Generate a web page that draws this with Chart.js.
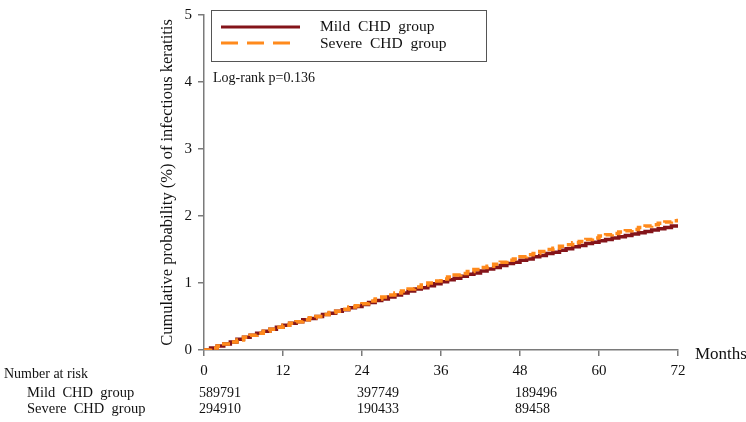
<!DOCTYPE html>
<html>
<head>
<meta charset="utf-8">
<script src="https://cdn.jsdelivr.net/npm/chart.js@4"></script>
<style>
  html, body { margin: 0; padding: 0; background: #fff; }
  #wrap { width: 746px; height: 422px; position: relative; }
</style>
</head>
<body>
<div id="wrap"><canvas id="km"></canvas></div>
<script>
// Follow-up month for each step
const months = [0, 1, 2, 3, 4, 5, 6, 7, 8, 9, 10, 11, 12, 13, 14, 15, 16, 17, 18, 19, 20, 21, 22, 23, 24,
  25, 26, 27, 28, 29, 30, 31, 32, 33, 34, 35, 36, 37, 38, 39, 40, 41, 42, 43, 44, 45, 46, 47, 48,
  49, 50, 51, 52, 53, 54, 55, 56, 57, 58, 59, 60, 61, 62, 63, 64, 65, 66, 67, 68, 69, 70, 71, 72];

// Cumulative probability (%)
const mildCHD = [0.00, 0.03, 0.06, 0.09, 0.12, 0.16, 0.19, 0.22, 0.25, 0.28, 0.31, 0.34, 0.37,
  0.40, 0.42, 0.45, 0.47, 0.50, 0.53, 0.55, 0.58, 0.60, 0.63, 0.65, 0.68,
  0.71, 0.74, 0.76, 0.79, 0.82, 0.85, 0.88, 0.91, 0.93, 0.96, 0.99, 1.02,
  1.05, 1.07, 1.10, 1.13, 1.15, 1.18, 1.21, 1.23, 1.26, 1.29, 1.31, 1.34,
  1.36, 1.39, 1.41, 1.44, 1.46, 1.49, 1.51, 1.54, 1.56, 1.59, 1.61, 1.63,
  1.65, 1.67, 1.69, 1.71, 1.73, 1.75, 1.77, 1.79, 1.81, 1.83, 1.85, 1.87];
const severeCHD = [0.00, 0.03, 0.06, 0.09, 0.12, 0.15, 0.19, 0.22, 0.25, 0.28, 0.31, 0.34, 0.37,
  0.40, 0.42, 0.45, 0.48, 0.50, 0.53, 0.56, 0.58, 0.61, 0.64, 0.66, 0.69,
  0.73, 0.76, 0.79, 0.82, 0.85, 0.88, 0.91, 0.94, 0.97, 1.00, 1.03, 1.06,
  1.09, 1.12, 1.14, 1.17, 1.20, 1.23, 1.25, 1.28, 1.31, 1.34, 1.36, 1.39,
  1.42, 1.44, 1.47, 1.50, 1.52, 1.55, 1.57, 1.60, 1.62, 1.65, 1.67, 1.70,
  1.72, 1.74, 1.76, 1.78, 1.80, 1.83, 1.85, 1.87, 1.89, 1.91, 1.93, 1.96];

// Number at risk table
const riskMonths = [0, 24, 48];
const riskMild = ['589791', '397749', '189496'];
const riskSevere = ['294910', '190433', '89458'];

const seriesNames = ['Mild  CHD  group', 'Severe  CHD  group'];
const xTicks = [0, 12, 24, 36, 48, 60, 72];
const yTicks = [0, 1, 2, 3, 4, 5];

const SERIF = "'Liberation Serif', 'Times New Roman', serif";
const MAROON = '#84141a';
const ORANGE = '#ff8a1c';
const AXIS = '#7a7a7a';

function toPoints(vals) {
  return months.map((m, i) => ({ x: m, y: vals[i] }));
}

// extra texts: legend box, log-rank, "Months", number at risk
const annotations = {
  id: 'annotations',
  afterDraw(chart) {
    const ctx = chart.ctx;
    const xs = chart.scales.x;
    ctx.save();

    // legend box
    ctx.strokeStyle = '#555';
    ctx.lineWidth = 1;
    ctx.strokeRect(211.5, 10.5, 275, 51);
    ctx.lineWidth = 3;
    ctx.strokeStyle = MAROON;
    ctx.beginPath(); ctx.moveTo(221, 27); ctx.lineTo(300, 27); ctx.stroke();
    ctx.strokeStyle = ORANGE;
    ctx.setLineDash([17, 9]);
    ctx.beginPath(); ctx.moveTo(221, 43); ctx.lineTo(294, 43); ctx.stroke();
    ctx.setLineDash([]);

    ctx.fillStyle = '#111';
    ctx.textBaseline = 'middle';
    ctx.textAlign = 'left';
    ctx.font = '15.5px ' + SERIF;
    ctx.fillText(seriesNames[0], 320, 27);
    ctx.fillText(seriesNames[1], 320, 44);

    ctx.font = '14px ' + SERIF;
    ctx.fillText('Log-rank p=0.136', 213, 78);

    ctx.font = '17px ' + SERIF;
    ctx.fillText('Months', 695, 355);

    // number at risk
    ctx.font = '14px ' + SERIF;
    ctx.fillText('Number at risk', 4, 374);
    ctx.font = '14.5px ' + SERIF;
    ctx.fillText(seriesNames[0], 27, 393);
    ctx.fillText(seriesNames[1], 27, 409);
    ctx.font = '14px ' + SERIF;
    riskMonths.forEach((m, i) => {
      const px = xs.getPixelForValue(m) - 5;
      ctx.fillText(riskMild[i], px, 393);
      ctx.fillText(riskSevere[i], px, 409);
    });
    ctx.restore();
  }
};

new Chart(document.getElementById('km'), {
  type: 'line',
  data: {
    datasets: [
      {
        label: 'Mild CHD group',
        data: toPoints(mildCHD),
        borderColor: MAROON,
        borderWidth: 3.5,
        stepped: 'before',
        pointRadius: 0,
        fill: false,
        order: 2
      },
      {
        label: 'Severe CHD group',
        data: toPoints(severeCHD),
        borderColor: ORANGE,
        borderWidth: 3.5,
        borderDash: [8, 4],
        stepped: 'before',
        pointRadius: 0,
        fill: false,
        order: 1
      }
    ]
  },
  options: {
    responsive: true,
    maintainAspectRatio: false,
    animation: false,
    layout: { padding: { left: 148, top: 9, right: 68, bottom: 0 } },
    plugins: {
      legend: { display: false },
      tooltip: { enabled: false }
    },
    scales: {
      x: {
        type: 'linear',
        min: 0,
        max: 72,
        afterFit: s => { s.height = 72; },
        afterBuildTicks: s => { s.ticks = xTicks.map(v => ({ value: v })); },
        grid: { drawOnChartArea: false, drawTicks: true, tickLength: 6, color: AXIS, lineWidth: 1.5 },
        border: { color: AXIS, width: 1.5 },
        ticks: { color: '#111', padding: 6, maxRotation: 0, font: { family: SERIF, size: 15 } }
      },
      y: {
        min: 0,
        max: 5,
        afterFit: s => { s.width = 56; },
        afterBuildTicks: s => { s.ticks = yTicks.map(v => ({ value: v })); },
        grid: { drawOnChartArea: false, drawTicks: true, tickLength: 6, color: AXIS, lineWidth: 1.5 },
        border: { color: AXIS, width: 1.5 },
        ticks: { color: '#111', padding: 6, font: { family: SERIF, size: 15 } },
        title: {
          display: true,
          text: 'Cumulative probability (%) of infectious keratitis',
          color: '#111',
          padding: { top: 10, bottom: 0 },
          font: { family: SERIF, size: 16.5 }
        }
      }
    }
  },
  plugins: [annotations]
});
</script>
</body>
</html>
